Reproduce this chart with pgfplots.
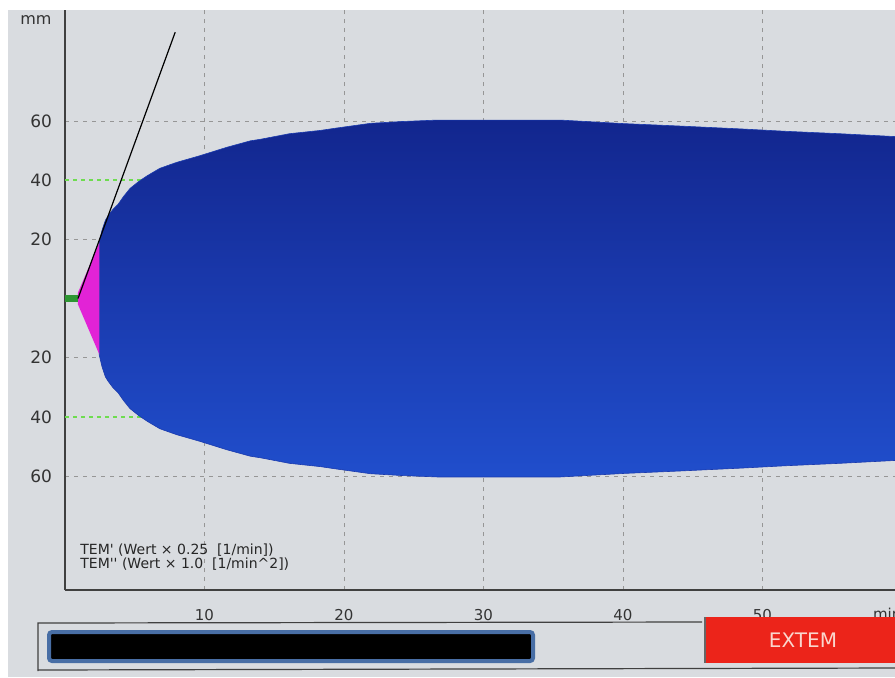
\documentclass[border=0pt]{standalone}
\usepackage{fontspec}
\setmainfont{Liberation Sans}
\newfontfamily\scrfont{DejaVu Sans}
\usepackage{pgfplots}
\pgfplotsset{compat=1.18}
\usepackage{pgfplotstable}
\definecolor{scr}{RGB}{217,220,224}
\definecolor{temtop}{RGB}{18,38,142}
\definecolor{temmid}{RGB}{26,58,174}
\definecolor{tembot}{RGB}{32,78,204}
\definecolor{cft}{RGB}{226,35,214}
\definecolor{ctg}{RGB}{45,150,50}
\definecolor{lg}{RGB}{110,220,80}
\definecolor{gridc}{RGB}{150,150,150}
\definecolor{exred}{RGB}{236,36,26}
\definecolor{barblue}{RGB}{72,110,165}

% amplitude (half width, mm) of the EXTEM trace over time (min)
\pgfplotstableread{
t a
2.45 19
2.65 23
2.9 26.5
3.1 28
3.45 30.2
3.8 31.8
4.2 34.5
4.66 37.2
5.3 39.6
5.9 41.5
6.8 44
8.0 46
9.7 48.3
11.6 51.1
13.3 53.3
14.0 53.8
16.1 55.7
18.3 56.8
19.3 57.5
21.9 59.2
24.1 59.8
26.7 60.3
35.5 60.3
40.1 59.1
44.0 58.3
48.5 57.3
51.7 56.5
55.5 55.7
59.6 54.7
}\temdata

\begin{document}
\begin{tikzpicture}
\begin{scope}[x=0.5pt,y=-0.5pt]
\fill[white] (0,0) rectangle (895,677);
\fill[scr] (8,10) rectangle (895,677);
\end{scope}
\begin{axis}[
  at={(32.5pt,-295pt)}, anchor=south west,
  scale only axis, width=415pt, height=290pt,
  xmin=0, xmax=59.5, ymin=-98.5, ymax=97.5,
  axis x line*=bottom, axis y line*=left,
  axis line style={draw=black!75, line width=0.6pt},
  xtick={10,20,30,40,50},
  ytick={-60,-20,20,60}, yticklabels={60,20,20,60},
  extra y ticks={-40,40}, extra y tick labels={40,40},
  extra y tick style={grid=none},
  grid=major,
  major grid style={gridc, dash pattern=on 2pt off 2.5pt, line width=0.4pt},
  major tick length=0pt,
  /pgf/number format/assume math mode=true,
  yticklabel style={font=\scrfont\fontsize{8.5}{10}\selectfont, text=black!80, xshift=-3pt},
  xticklabel style={font=\scrfont\fontsize{7.5}{9}\selectfont, text=black!80, yshift=-6pt},
]
\addplot[lg, line width=1pt, dash pattern=on 2pt off 2pt] coordinates {(0,40) (6,40)};
\addplot[lg, line width=1pt, dash pattern=on 2pt off 2pt] coordinates {(0,-40) (7,-40)};
\addplot[top color=temtop, bottom color=temmid, draw=temmid, line width=0.3pt] table[x=t, y=a] {\temdata} -- (axis cs:59.6,0) -- (axis cs:2.45,0) -- cycle;
\addplot[top color=temmid, bottom color=tembot, draw=temmid, line width=0.3pt] table[x=t, y expr=-\thisrow{a}] {\temdata} -- (axis cs:59.6,0) -- (axis cs:2.45,0) -- cycle;
\addplot[fill=cft, draw=none] coordinates {(0.93,2) (2.47,19) (2.47,-19) (0.93,-2)} -- cycle;
\addplot[ctg, line width=3.5pt] coordinates {(0,0) (0.93,0)};
\addplot[black, line width=0.6pt] coordinates {(0.93,0) (7.9,90)};
\end{axis}
\begin{scope}[x=0.5pt,y=-0.5pt]
\node[anchor=center, font=\scrfont\fontsize{8}{9}\selectfont, text=black!80] at (36,20) {mm};
\node[anchor=west, font=\scrfont\fontsize{7}{8}\selectfont, text=black!85, inner sep=0pt] at (80,550) {TEM\textquotesingle{} (Wert × 0.25\ \ [1/min])};
\node[anchor=west, font=\scrfont\fontsize{7}{8}\selectfont, text=black!85, inner sep=0pt] at (80,564) {TEM\textquotesingle\textquotesingle{} (Wert × 1.0\ \ [1/min\textasciicircum 2])};
\node[anchor=west, font=\scrfont\fontsize{7.5}{9}\selectfont, text=black!80] at (866,614) {min};
% lower panel
\draw[black!75, line width=0.6pt] (38,671) -- (38,623) -- (702,622);
\draw[black!75, line width=0.6pt] (38,670) -- (895,668);
\draw[barblue, line width=2pt, fill=black, rounded corners=1.5pt] (49,632) rectangle (533,661);
\fill[exred] (705,617) rectangle (895,663);
\draw[black!60, line width=0.6pt] (705,617) -- (705,663);
\node[text={rgb,255:red,250;green,214;blue,205}, font=\scrfont\fontsize{10}{12}\selectfont] at (803,640) {EXTEM};
\end{scope}
\pgfresetboundingbox
\path[use as bounding box] (0,0) rectangle (447.5pt,-338.5pt);
\end{tikzpicture}
\end{document}
